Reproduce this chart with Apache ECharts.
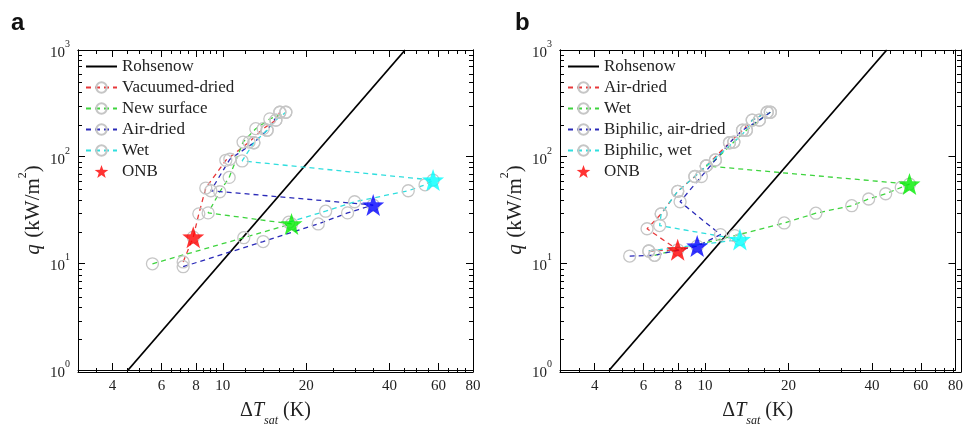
<!DOCTYPE html>
<html><head><meta charset="utf-8">
<script src="https://cdn.jsdelivr.net/npm/echarts@6/dist/echarts.min.js"></script>
<style>html,body{margin:0;padding:0;background:#fff}#c{width:966px;height:432px}</style>
</head><body><div id="c"></div>
<script>
// ---------- tick labels ----------
const xTickLabels = [4, 6, 8, 10, 20, 40, 60, 80];
const xMinorTicks = [3, 3.5, 4.5, 5, 5.5, 6.5, 7, 7.5, 8.5, 9, 9.5, 12, 14, 16, 18, 25, 30, 35, 45, 50, 55, 65, 70, 75];
const yMinorTicks = [2, 3, 4, 5, 6, 7, 8, 9, 20, 30, 40, 50, 60, 70, 80, 90, 200, 300, 400, 500, 600, 700, 800, 900];

// ---------- panel a ----------
const aRohsenow = [[4.55, 1], [45.5, 1000]];
const aVacuumed = [[7.19, 10.3], [7.82, 17.6], [8.19, 29.1], [8.68, 50.8], [10.25, 92.5], [12.44, 137], [13.98, 183], [15.54, 220], [16.06, 261]];
const aNewSurface = [[5.57, 9.9], [11.9, 17.4], [17.7, 23.4], [8.85, 29.7], [9.75, 46.9], [10.54, 63.9], [11.83, 137], [13.15, 183], [14.78, 226], [16.88, 261]];
const aAirDried = [[7.19, 9.3], [13.98, 16.0], [22.1, 23.4], [28.2, 29.7], [34.9, 35.2], [9.05, 47.9], [10.6, 94.6], [12.94, 135], [14.45, 177], [16.06, 261]];
const aWet = [[17.3, 24.3], [23.5, 30.8], [29.9, 37.8], [46.7, 47.9], [53.7, 54.5], [57.4, 60.3], [11.74, 91.2], [12.94, 135], [14.45, 177], [15.54, 220], [16.88, 261]];
const aONB = [[7.82, 17.6], [17.7, 23.4], [34.9, 35.2], [57.4, 60.3]];

// ---------- panel b ----------
const bRohsenow = [[4.52, 1], [45.2, 1000]];
const bAirDried = [[6.27, 13.05], [7.97, 13.4], [6.18, 21.1], [6.95, 29.1], [7.97, 47.3], [9.19, 65.2], [10.1, 81.9], [12.25, 135], [13.65, 177], [14.8, 220], [16.76, 261]];
const bWet = [[6.58, 11.9], [12.8, 18.2], [19.3, 23.9], [25.1, 29.5], [33.8, 34.7], [38.9, 40.1], [44.8, 44.9], [51.0, 51.5], [54.6, 55.3], [10.1, 81.9], [10.9, 93.2], [12.7, 137], [14.1, 177], [15.7, 220], [17.2, 261]];
const bBiAirDried = [[5.35, 11.7], [6.58, 11.9], [9.37, 14.5], [11.37, 18.6], [8.13, 37.8], [9.7, 65.2], [10.9, 93.2], [12.25, 135], [13.65, 177], [15.7, 220], [17.2, 261]];
const bBiWet = [[6.27, 13.05], [13.36, 16.7], [6.86, 22.6], [6.95, 29.1], [7.97, 47.3], [9.19, 65.2], [10.1, 81.9], [12.7, 137], [14.1, 177], [14.8, 220], [16.76, 261]];
const bONB = [[7.97, 13.4], [9.37, 14.5], [13.36, 16.7], [54.6, 55.3]];

// ---------- styles ----------
const aONBColors = ['#ff0000', '#00ee00', '#0000ff', '#00ffff'];
const bONBColors = ['#ff0000', '#0000ff', '#00ffff', '#00ee00'];
const SERIF = '"Liberation Serif","DejaVu Serif",serif';
const C_RED = '#e8383a', C_GREEN = '#3ed43e', C_BLUE = '#2a2ab8', C_CYAN = '#2fdede';

const starPath = (function () {
  const pts = [];
  for (let i = 0; i < 10; i++) {
    const r = i % 2 ? 0.4 : 1;
    const a = -Math.PI / 2 + i * Math.PI / 5;
    pts.push((r * Math.cos(a)).toFixed(4) + ',' + (r * Math.sin(a)).toFixed(4));
  }
  return 'path://M' + pts.join('L') + 'Z';
})();

const chart = echarts.init(document.getElementById('c'), null, { renderer: 'canvas' });

function xAx(gridIndex, position, ticks, len, withLabels) {
  const ax = {
    type: 'log', logBase: 10, gridIndex: gridIndex, position: position, min: 3, max: 80,
    axisLine: { show: true, lineStyle: { color: '#000', width: 1 } },
    splitLine: { show: false },
    axisTick: { show: true, inside: true, length: len, lineStyle: { color: '#000', width: 1 }, customValues: ticks },
    axisLabel: { show: false }
  };
  if (withLabels) {
    ax.axisLabel = {
      show: true, customValues: xTickLabels, fontFamily: SERIF, fontSize: 15, color: '#222', margin: 9,
      formatter: function (v) { return String(Math.round(v)); }
    };
    ax.name = '{n|Δ}{i|T}{s|sat}{n| (K)}';
    ax.nameLocation = 'middle';
    ax.nameGap = 31;
    ax.nameTextStyle = {
      rich: {
        n: { fontFamily: SERIF, fontSize: 20, color: '#222', padding: [0, 0, 6, 0], verticalAlign: 'top' },
        i: { fontFamily: SERIF, fontSize: 20, color: '#222', fontStyle: 'italic', padding: [0, 0, 6, 0], verticalAlign: 'top' },
        s: { fontFamily: SERIF, fontSize: 12, color: '#222', fontStyle: 'italic', verticalAlign: 'bottom' }
      }
    };
  }
  return ax;
}
function yAx(gridIndex, position, ticks, len, withLabels) {
  const ax = {
    type: 'log', logBase: 10, gridIndex: gridIndex, position: position, min: 1, max: 1000,
    axisLine: { show: true, lineStyle: { color: '#000', width: 1 } },
    splitLine: { show: false },
    axisTick: { show: true, inside: true, length: len, lineStyle: { color: '#000', width: 1 } },
    axisLabel: { show: false }
  };
  if (ticks) ax.axisTick.customValues = ticks;
  if (withLabels) {
    ax.axisLabel = {
      show: true, margin: 8,
      formatter: function (v) { return '{b|10}{s|' + Math.round(Math.log10(v)) + '}'; },
      rich: {
        b: { fontFamily: SERIF, fontSize: 15, color: '#222', padding: [6, 0, 0, 0], verticalAlign: 'bottom' },
        s: { fontFamily: SERIF, fontSize: 10, color: '#222', verticalAlign: 'top' }
      }
    };
    ax.name = '{i|q}  {n|(kW/m}{s|2}{n|)}';
    ax.nameLocation = 'middle';
    ax.nameGap = 34;
    ax.nameRotate = 90;
    ax.nameTextStyle = {
      rich: {
        i: { fontFamily: SERIF, fontSize: 21, color: '#222', fontStyle: 'italic', padding: [6, 0, 0, 0], verticalAlign: 'bottom' },
        n: { fontFamily: SERIF, fontSize: 21, color: '#222', padding: [6, 0, 0, 0], verticalAlign: 'bottom' },
        s: { fontFamily: SERIF, fontSize: 12, color: '#222', verticalAlign: 'top' }
      }
    };
  }
  return ax;
}

function dataSeries(name, data, color, xi, yi) {
  return {
    type: 'line', name: name, data: data, xAxisIndex: xi, yAxisIndex: yi,
    symbol: 'circle', symbolSize: 12, showSymbol: true, z: 3,
    lineStyle: { color: color, width: 1.3, type: [5, 4] },
    itemStyle: { color: 'rgba(255,255,255,0)', borderColor: '#c6c6c6', borderWidth: 1.3 },
    emphasis: { disabled: true }, silent: true
  };
}
function rohSeries(name, data, xi, yi) {
  return {
    type: 'line', name: name, data: data, xAxisIndex: xi, yAxisIndex: yi,
    symbol: 'circle', showSymbol: false, symbolSize: 0, z: 2,
    lineStyle: { color: '#000', width: 1.8 },
    itemStyle: { color: 'rgba(0,0,0,0)', borderWidth: 0 },
    emphasis: { disabled: true }, silent: true
  };
}
function onbSeries(name, data, colors, xi, yi) {
  return {
    type: 'scatter', name: name, xAxisIndex: xi, yAxisIndex: yi, z: 6,
    data: data.map(function (p, i) { return { value: p, itemStyle: { color: colors[i] } }; }),
    symbol: starPath, symbolSize: 22, itemStyle: { color: '#ff0000' },
    emphasis: { disabled: true }, silent: true
  };
}

const legendText = { fontFamily: SERIF, fontSize: 17, color: '#222' };

const option = {
  animation: false,
  backgroundColor: '#fff',
  title: [
    { text: 'a', left: 6, top: 6, textStyle: { fontFamily: '"Liberation Sans",Arial,sans-serif', fontSize: 24, fontWeight: 'bold', color: '#111' } },
    { text: 'b', left: 510, top: 6, textStyle: { fontFamily: '"Liberation Sans",Arial,sans-serif', fontSize: 24, fontWeight: 'bold', color: '#111' } }
  ],
  grid: [
    { left: 78, top: 50, width: 395, height: 322 },
    { left: 78, top: 50, width: 395, height: 322 },
    { left: 560, top: 50, width: 401, height: 322 },
    { left: 560, top: 50, width: 401, height: 322 }
  ],
  xAxis: [
    xAx(0, 'bottom', xTickLabels, 7, true),
    xAx(0, 'top', xTickLabels, 7, false),
    xAx(1, 'bottom', xMinorTicks, 4, false),
    xAx(1, 'top', xMinorTicks, 4, false),
    xAx(2, 'bottom', xTickLabels, 7, true),
    xAx(2, 'top', xTickLabels, 7, false),
    xAx(3, 'bottom', xMinorTicks, 4, false),
    xAx(3, 'top', xMinorTicks, 4, false)
  ],
  yAxis: [
    yAx(0, 'left', null, 7, true),
    yAx(0, 'right', null, 7, false),
    yAx(1, 'left', yMinorTicks, 4, false),
    yAx(1, 'right', yMinorTicks, 4, false),
    yAx(2, 'left', null, 7, true),
    yAx(2, 'right', null, 7, false),
    yAx(3, 'left', yMinorTicks, 4, false),
    yAx(3, 'right', yMinorTicks, 4, false)
  ],
  legend: [
    {
      left: 80, top: 53, orient: 'vertical', itemWidth: 31, itemHeight: 13, itemGap: 4,
      selectedMode: false, textStyle: legendText,
      data: ['Rohsenow', 'Vacuumed-dried', 'New surface', 'Air-dried', 'Wet', 'ONB']
    },
    {
      left: 562, top: 53, orient: 'vertical', itemWidth: 31, itemHeight: 13, itemGap: 4,
      selectedMode: false, textStyle: legendText,
      formatter: function (n) { return n.replace(/^b:/, ''); },
      data: ['b:Rohsenow', 'b:Air-dried', 'b:Wet', 'b:Biphilic, air-dried', 'b:Biphilic, wet', 'b:ONB']
    }
  ],
  series: [
    rohSeries('Rohsenow', aRohsenow, 0, 0),
    dataSeries('Vacuumed-dried', aVacuumed, C_RED, 0, 0),
    dataSeries('New surface', aNewSurface, C_GREEN, 0, 0),
    dataSeries('Air-dried', aAirDried, C_BLUE, 0, 0),
    dataSeries('Wet', aWet, C_CYAN, 0, 0),
    onbSeries('ONB', aONB, aONBColors, 0, 0),
    rohSeries('b:Rohsenow', bRohsenow, 4, 4),
    dataSeries('b:Air-dried', bAirDried, C_RED, 4, 4),
    dataSeries('b:Wet', bWet, C_GREEN, 4, 4),
    dataSeries('b:Biphilic, air-dried', bBiAirDried, C_BLUE, 4, 4),
    dataSeries('b:Biphilic, wet', bBiWet, C_CYAN, 4, 4),
    onbSeries('b:ONB', bONB, bONBColors, 4, 4)
  ]
};
chart.setOption(option);
</script></body></html>
